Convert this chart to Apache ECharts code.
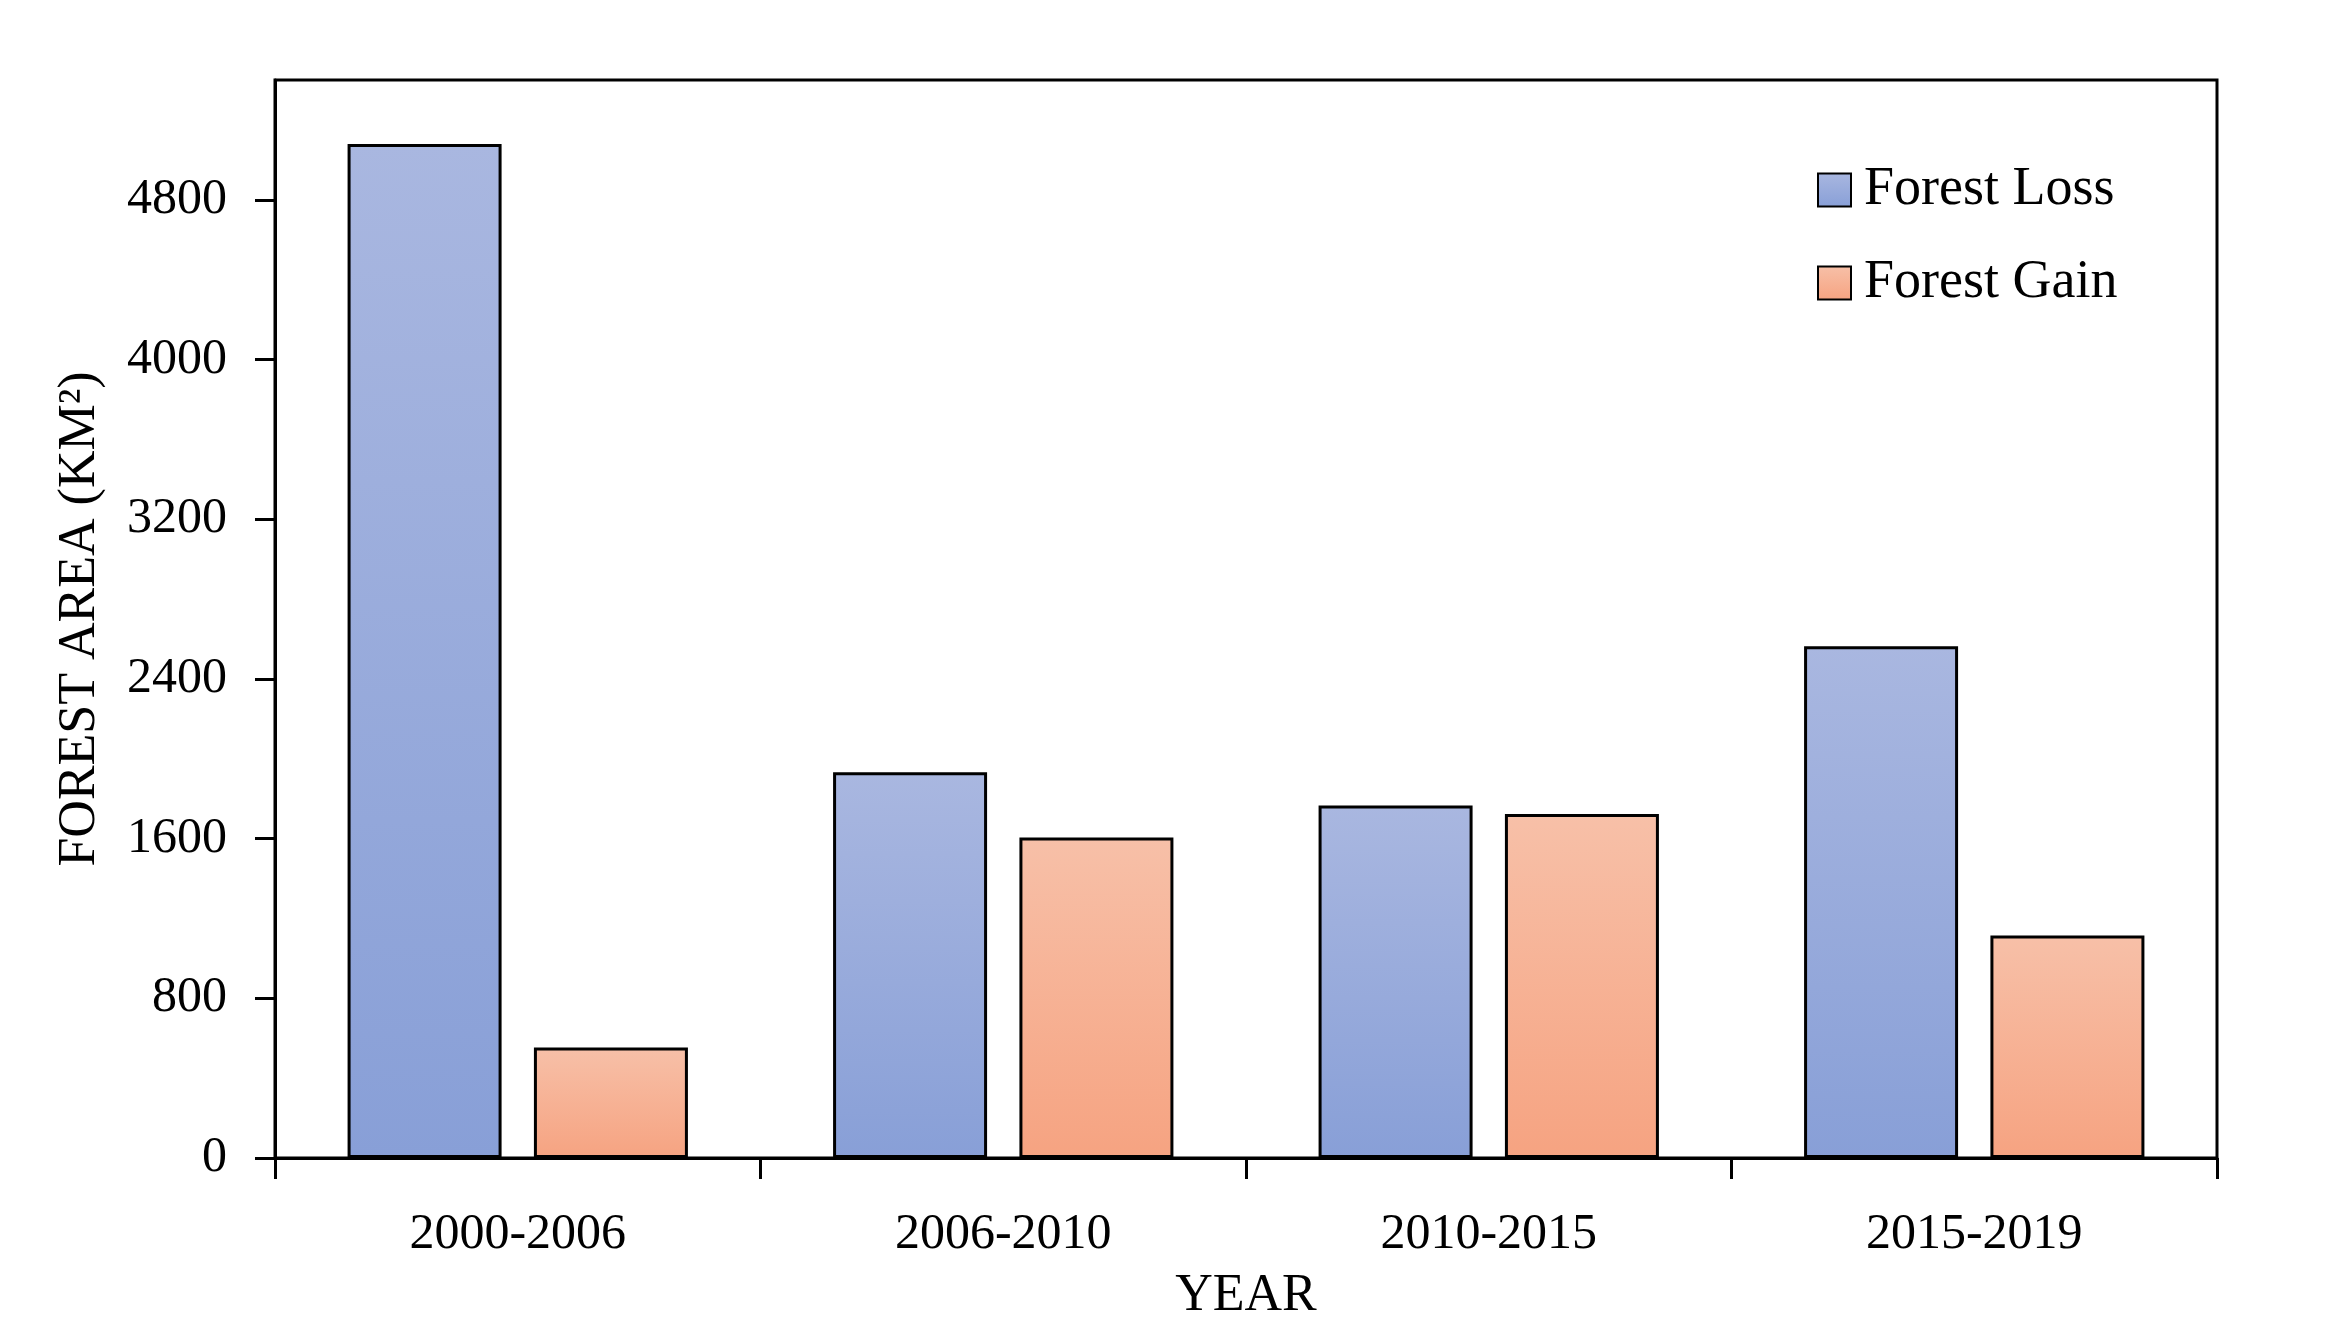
<!DOCTYPE html>
<html>
<head>
<meta charset="utf-8">
<script src="https://cdn.jsdelivr.net/npm/echarts@6/dist/echarts.min.js"></script>
<style>
html,body{margin:0;padding:0;background:#fff;}
#chart{width:2352px;height:1340px;}
</style>
</head>
<body>
<div id="chart"></div>
<script>
const categories = ['2000-2006', '2006-2010', '2010-2015', '2015-2019'];
const forestLoss = [5080, 1932, 1766, 2564];
const forestGain = [553, 1606, 1723, 1115];
const yTicks = [0, 800, 1600, 2400, 3200, 4000, 4800];
const seriesNames = ['Forest Loss', 'Forest Gain'];

const FONT = 'Liberation Serif';
function grad(top, bottom) {
  return new echarts.graphic.LinearGradient(0, 0, 0, 1, [
    { offset: 0, color: top },
    { offset: 1, color: bottom }
  ]);
}

const chart = echarts.init(document.getElementById('chart'));
chart.setOption({
  animation: false,
  backgroundColor: '#fff',
  textStyle: { fontFamily: FONT, color: '#000' },
  grid: {
    left: 275, right: 135, top: 80, bottom: 182,
    show: true, borderColor: '#000', borderWidth: 3, backgroundColor: 'transparent'
  },
  legend: {
    orient: 'vertical',
    left: 1812, top: 156,
    itemWidth: 33, itemHeight: 33, itemGap: 35,
    icon: 'rect',
    textStyle: { fontFamily: FONT, fontSize: 54, color: '#000', lineHeight: 58, padding: [0, 0, 0, 8] },
    data: seriesNames
  },
  xAxis: {
    type: 'category',
    data: categories,
    name: 'YEAR',
    nameLocation: 'middle',
    nameGap: 112,
    nameTextStyle: { fontFamily: FONT, fontSize: 52, color: '#000' },
    axisLine: { lineStyle: { color: '#000', width: 3 } },
    axisTick: { show: true, length: 21, lineStyle: { color: '#000', width: 3 } },
    axisLabel: { fontFamily: FONT, fontSize: 50, color: '#000', margin: 52 },
    splitLine: { show: false }
  },
  yAxis: {
    type: 'value',
    min: 0, max: 5400, interval: 800,
    name: 'FOREST AREA (KM²)',
    nameLocation: 'middle',
    nameGap: 169,
    nameTextStyle: { fontFamily: FONT, fontSize: 52, color: '#000' },
    axisLine: { show: true, lineStyle: { color: '#000', width: 3 } },
    axisTick: { show: true, length: 20, lineStyle: { color: '#000', width: 3 }, customValues: yTicks },
    axisLabel: {
      fontFamily: FONT, fontSize: 50, color: '#000', margin: 48, customValues: yTicks,
      formatter: function (v) { return String(v); }
    },
    splitLine: { show: false }
  },
  series: [
    {
      name: seriesNames[0],
      type: 'bar',
      data: forestLoss,
      barWidth: 154,
      barGap: '21%',
      itemStyle: { color: grad('#A9B7E0', '#889FD7'), borderColor: '#000', borderWidth: 3 }
    },
    {
      name: seriesNames[1],
      type: 'bar',
      data: forestGain,
      barWidth: 154,
      barGap: '21%',
      itemStyle: { color: grad('#F7C0A8', '#F6A381'), borderColor: '#000', borderWidth: 3 }
    }
  ]
});
</script>
</body>
</html>
